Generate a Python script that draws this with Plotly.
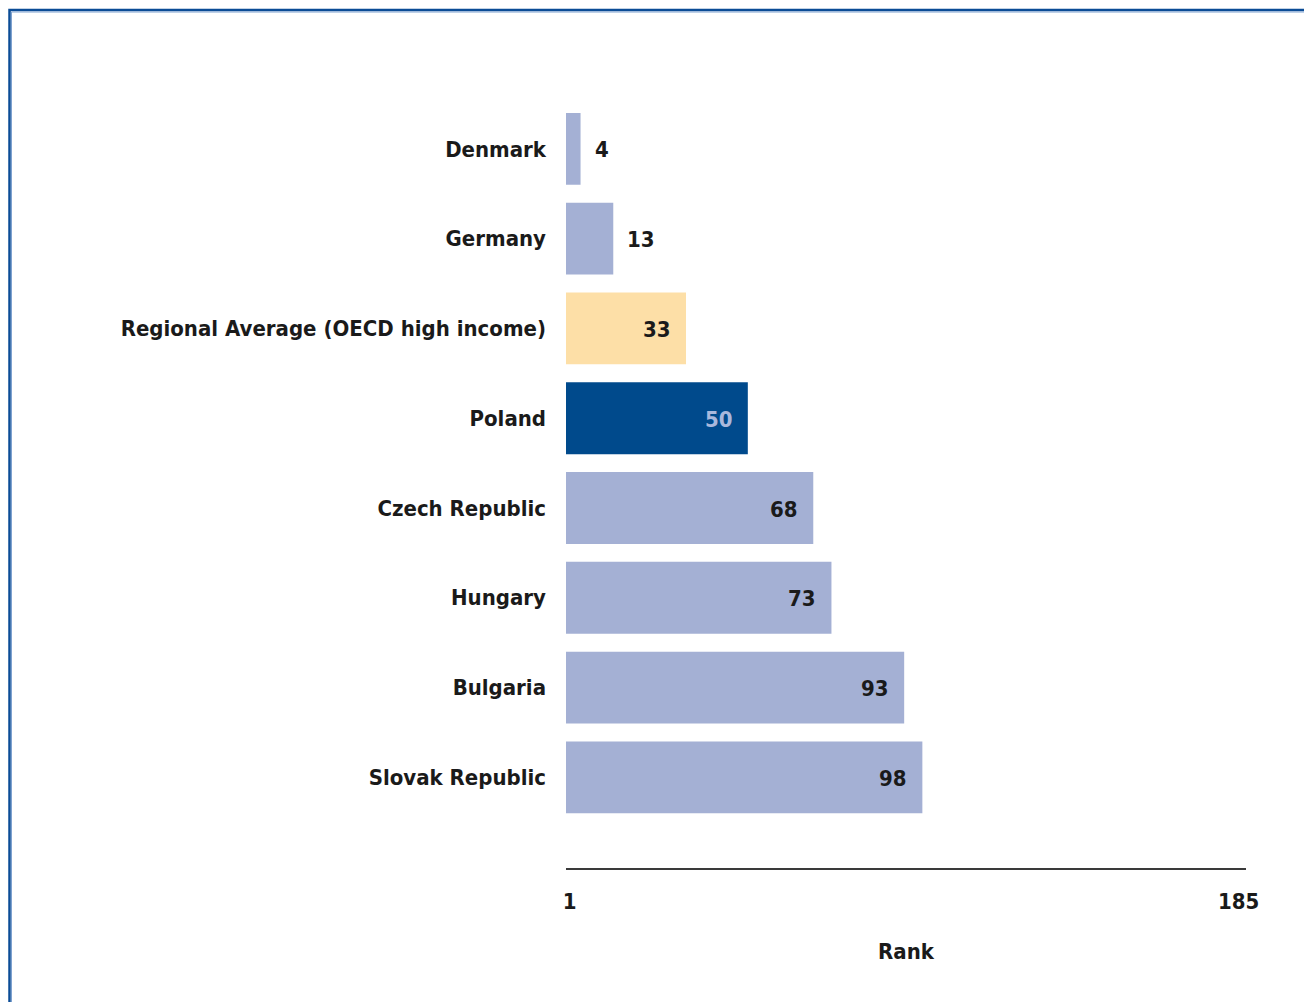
import plotly.graph_objects as go

# Ease of doing business ranking, comparison economies
countries = ["Denmark", "Germany", "Regional Average (OECD high income)", "Poland",
             "Czech Republic", "Hungary", "Bulgaria", "Slovak Republic"]
ranks = [4, 13, 33, 50, 68, 73, 93, 98]
bar_colors = ["#A4B0D4", "#A4B0D4", "#FDDFA7", "#004A8C",
              "#A4B0D4", "#A4B0D4", "#A4B0D4", "#A4B0D4"]
label_colors = ["#1A1A1A", "#1A1A1A", "#1A1A1A", "#A9B8DC",
                "#1A1A1A", "#1A1A1A", "#1A1A1A", "#1A1A1A"]
label_outside = [True, True, False, False, False, False, False, False]
tick_vals = [1, 185]
tick_text = ["1", "185"]

FONT = "DejaVu Sans Condensed"
FS = 22
W, H = 1304, 1002
ML, MR, MT, MB = 566, 58, 104, 134
plot_w = W - ML - MR
plot_h = H - MT - MB

fig = go.Figure()
fig.add_trace(go.Bar(
    x=ranks, y=countries, orientation="h",
    marker=dict(color=bar_colors, line=dict(width=0)),
    hoverinfo="x+y",
))

# value labels next to / inside the bar ends
for c, r, col, out in zip(countries, ranks, label_colors, label_outside):
    fig.add_annotation(
        x=r, y=c, text=str(r), showarrow=False,
        xanchor="left" if out else "right",
        xshift=12 if out else -13, yshift=-1,
        font=dict(family=FONT, size=FS, color=col, weight="bold"),
    )

# page frame
def px_x(p):
    return (p - ML) / plot_w

def px_y(p):
    return (H - MB - p) / plot_h

fig.add_shape(type="rect", xref="paper", yref="paper",
              x0=px_x(9.5), x1=px_x(1320), y0=px_y(1020), y1=px_y(10),
              line=dict(color="#0B4C96", width=2.5), fillcolor="rgba(0,0,0,0)")
fig.add_shape(type="rect", xref="paper", yref="paper",
              x0=px_x(11.5), x1=px_x(1320), y0=px_y(1020), y1=px_y(12),
              line=dict(color="#7FA2D0", width=1), fillcolor="rgba(0,0,0,0)")

fig.update_layout(
    width=W, height=H,
    margin=dict(l=ML, r=MR, t=MT, b=MB),
    paper_bgcolor="white", plot_bgcolor="white",
    bargap=0.2,
    showlegend=False,
    font=dict(family=FONT, color="#1A1A1A"),
    xaxis=dict(
        range=[0, 187], tickvals=tick_vals, ticktext=tick_text,
        showgrid=False, zeroline=False,
        showline=True, linecolor="#3A3A3A", linewidth=2,
        ticks="outside", ticklen=0, ticklabelstandoff=13,
        tickfont=dict(family=FONT, size=FS, color="#1A1A1A", weight="bold"),
        title=dict(text="Rank", standoff=30,
                   font=dict(family=FONT, size=FS, color="#1A1A1A", weight="bold")),
        fixedrange=True,
    ),
    yaxis=dict(
        categoryorder="array", categoryarray=countries,
        range=[8.01, -0.5],
        showgrid=False, zeroline=False, showline=False,
        ticks="", ticklabelstandoff=19,
        tickfont=dict(family=FONT, size=FS, color="#1A1A1A", weight="bold"),
        fixedrange=True,
    ),
)

fig.write_html("out.html")
